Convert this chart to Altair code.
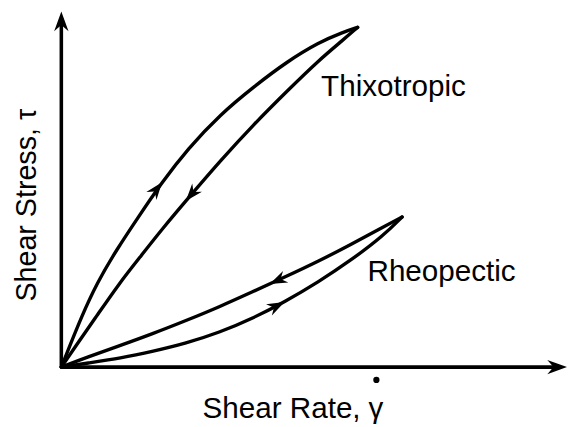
import math
import altair as alt
import pandas as pd
import numpy as np

# ---- curve data (arbitrary units) ----
thix_up_x = [0, 8, 20, 36, 56, 78, 101, 128, 161, 195, 228, 261, 285, 300]
thix_up_y = [0, 20, 50, 85, 119, 152, 186, 221, 256, 284, 309, 329, 339, 344]
thix_down_x = [0, 13, 36, 58, 81, 103, 131, 161, 195, 228, 261, 285, 300]
thix_down_y = [0, 19, 52, 84, 113, 141, 174, 209, 246, 279, 311, 331, 344]
rheo_up_x = [0, 26, 60, 93, 126, 160, 193, 226, 260, 293, 326, 345]
rheo_up_y = [0, 4, 9, 16, 24, 35, 49, 66, 86, 108, 133, 152]
rheo_down_x = [0, 26, 60, 93, 126, 160, 193, 226, 260, 293, 326, 345]
rheo_down_y = [0, 10, 22, 34, 47, 61, 76, 91, 107, 124, 142, 152]

curves = {
    "thix_up": (thix_up_x, thix_up_y),
    "thix_down": (thix_down_x, thix_down_y),
    "rheo_up": (rheo_up_x, rheo_up_y),
    "rheo_down": (rheo_down_x, rheo_down_y),
}

# arrow annotations: (curve, x position, direction +1 forward / -1 backward)
arrow_curve = ["thix_up", "thix_down", "rheo_down", "rheo_up"]
arrow_x = [102, 126, 211, 226]
arrow_dir = [1, -1, -1, 1]

labels = ["Thixotropic", "Rheopectic", "Shear Rate,", "γ"]
label_x = [263, 310, 143, 311]
label_y = [274, 87, -52, -52]

y_title = "Shear Stress, τ"

X_MAX = 510
Y_MAX = 360

rows = []
for name, (xs, ys) in curves.items():
    for a, b in zip(xs, ys):
        rows.append({"x": a, "y": b, "series": name})
df_lines = pd.DataFrame(rows)

arows = []
for c, ax_, d in zip(arrow_curve, arrow_x, arrow_dir):
    xs, ys = curves[c]
    ay = float(np.interp(ax_, xs, ys))
    i = int(np.searchsorted(xs, ax_))
    i = max(1, min(i, len(xs) - 1))
    dx = (xs[i] - xs[i - 1]) * d
    dy = (ys[i] - ys[i - 1]) * d
    ang = math.degrees(math.atan2(dx, dy)) % 360
    arows.append({"x": ax_, "y": ay, "angle": ang})
df_arrows = pd.DataFrame(arows)

df_axes = pd.DataFrame([
    {"x": 0, "y": 0, "x2": X_MAX - 10, "y2": 0},
    {"x": 0, "y": 0, "x2": 0, "y2": Y_MAX - 10},
])
df_axis_heads = pd.DataFrame([
    {"x": X_MAX + 2, "y": 0, "angle": 90},
    {"x": 0, "y": Y_MAX, "angle": 0},
])
df_labels = pd.DataFrame({"x": label_x, "y": label_y, "text": labels})
df_dot = pd.DataFrame({"x": [319], "y": [-13]})
df_ytitle = pd.DataFrame({"x": [-26], "y": [164], "text": [y_title]})

xs_ = alt.Scale(domain=[0, X_MAX], nice=False, zero=False)
ys_ = alt.Scale(domain=[0, Y_MAX], nice=False, zero=False)
X = lambda f="x": alt.X(f"{f}:Q", scale=xs_, axis=None)
Y = lambda f="y": alt.Y(f"{f}:Q", scale=ys_, axis=None)

HEAD = "M0,0L0.8,2.2L0,1.5L-0.8,2.2Z"

lines = alt.Chart(df_lines).mark_line(
    color="black", strokeWidth=3.4, interpolate="basis", strokeCap="round"
).encode(x=X(), y=Y(), detail="series:N")

arrows = alt.Chart(df_arrows).mark_point(
    shape=HEAD, filled=True, color="black", size=260, opacity=1
).encode(x=X(), y=Y(), angle=alt.Angle("angle:Q", scale=None))

axes = alt.Chart(df_axes).mark_rule(color="black", strokeWidth=3.6).encode(
    x=X(), y=Y(), x2="x2:Q", y2="y2:Q"
)

heads = alt.Chart(df_axis_heads).mark_point(
    shape=HEAD, filled=True, color="black", size=330, opacity=1
).encode(x=X(), y=Y(), angle=alt.Angle("angle:Q", scale=None))

texts = alt.Chart(df_labels).mark_text(
    align="left", baseline="alphabetic", fontSize=30, font="Liberation Sans", color="black"
).encode(x=X(), y=Y(), text="text:N")

dot = alt.Chart(df_dot).mark_circle(color="black", size=40, opacity=1).encode(x=X(), y=Y())

ytitle = alt.Chart(df_ytitle).mark_text(
    align="center", baseline="alphabetic", angle=270, fontSize=29,
    font="Liberation Sans", color="black"
).encode(x=X(), y=Y(), text="text:N")

chart = alt.layer(axes, lines, arrows, heads, texts, dot, ytitle).properties(
    width=X_MAX,
    height=Y_MAX,
    padding={"left": 54, "top": 1, "right": 2, "bottom": 55},
    autosize=alt.AutoSizeParams(type="none"),
    background="white",
).configure_view(stroke=None)

chart.save("out.html", embed_options={"renderer": "svg", "actions": False})
